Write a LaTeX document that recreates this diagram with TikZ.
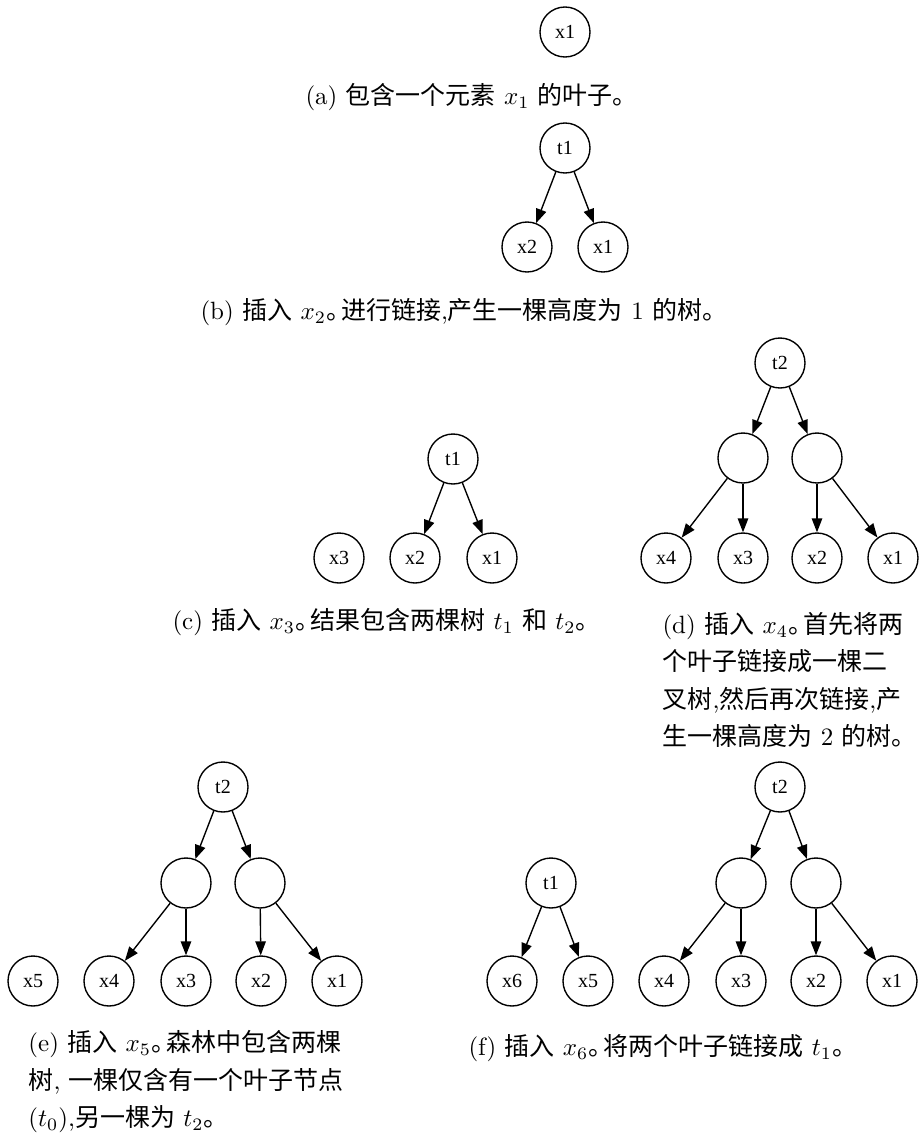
\documentclass[tikz,border=0pt]{standalone}
\usepackage{fontspec}
\usepackage{tikz}
\usetikzlibrary{arrows.meta}
\newfontfamily\cjk{Noto Sans CJK SC}
\newfontfamily\labelfont{Liberation Serif}
\newcommand\zh[1]{{\cjk #1}}
\newcommand\jh{\makebox[0.6em][l]{\cjk 。}}
\tikzset{
  vert/.style={draw, circle, minimum size=20pt, inner sep=0pt, line width=0.55pt,
               font=\labelfont\fontsize{8}{8}\selectfont},
  link/.style={-{Triangle[length=5.6pt,width=4.2pt]}, line width=0.55pt},
  subcap/.style={anchor=west, inner sep=0pt, align=left,
              font=\fontsize{10}{15}\selectfont},
}
\begin{document}
\begin{tikzpicture}[x=0.4pt, y=-0.4pt]
  \useasboundingbox (0,0) rectangle (919,1135);
  % (a) one leaf
  \node[vert] (a-x1) at (565,32) {x1};
  \node[subcap] (a-cap) at (305,97) {(a) \zh{包含一个元素} $x_1$ \zh{的叶子。}};
  % (b) link two leaves
  \node[vert] (b-t1) at (565,148) {t1};
  \node[vert] (b-x2) at (527,247) {x2};
  \node[vert] (b-x1) at (603,247) {x1};
  \draw[link] (b-t1) -- (b-x2);
  \draw[link] (b-t1) -- (b-x1);
  \node[subcap] (b-cap) at (200,312) {(b) \zh{插入} $x_2$\jh\zh{进行链接},\zh{产生一棵高度为} 1 \zh{的树。}};
  % (c) two trees
  \node[vert] (c-t1) at (453,459) {t1};
  \node[vert] (c-x3) at (339,558) {x3};
  \node[vert] (c-x2) at (415,558) {x2};
  \node[vert] (c-x1) at (492,558) {x1};
  \draw[link] (c-t1) -- (c-x2);
  \draw[link] (c-t1) -- (c-x1);
  \node[subcap] (c-cap) at (172,622) {(c) \zh{插入} $x_3$\jh\zh{结果包含两棵树} $t_1$ \zh{和} $t_2$\zh{。}};
  % (d) tree of height 2
  \node[vert] (d-t2) at (780,363) {t2};
  \node[vert] (d-l) at (743,458) {};
  \node[vert] (d-r) at (817,458) {};
  \node[vert] (d-x4) at (666,558) {x4};
  \node[vert] (d-x3) at (743,558) {x3};
  \node[vert] (d-x2) at (817,558) {x2};
  \node[vert] (d-x1) at (893,558) {x1};
  \draw[link] (d-t2) -- (d-l);
  \draw[link] (d-t2) -- (d-r);
  \draw[link] (d-l) -- (d-x4);
  \draw[link] (d-l) -- (d-x3);
  \draw[link] (d-r) -- (d-x2);
  \draw[link] (d-r) -- (d-x1);
  \node[subcap] (d-cap) at (662,680) {(d) \zh{插入} $x_4$\jh\zh{首先将两}\\
    \zh{个叶子链接成一棵二}\\
    \zh{叉树},\zh{然后再次链接},\zh{产}\\
    \zh{生一棵高度为} 2 \zh{的树。}};
  % (e) leaf plus tree
  \node[vert] (e-t2) at (223,787) {t2};
  \node[vert] (e-l) at (186,883) {};
  \node[vert] (e-r) at (260,883) {};
  \node[vert] (e-x5) at (33,981) {x5};
  \node[vert] (e-x4) at (109,981) {x4};
  \node[vert] (e-x3) at (186,981) {x3};
  \node[vert] (e-x2) at (261,981) {x2};
  \node[vert] (e-x1) at (337,981) {x1};
  \draw[link] (e-t2) -- (e-l);
  \draw[link] (e-t2) -- (e-r);
  \draw[link] (e-l) -- (e-x4);
  \draw[link] (e-l) -- (e-x3);
  \draw[link] (e-r) -- (e-x2);
  \draw[link] (e-r) -- (e-x1);
  \node[subcap] (e-cap) at (28,1082) {(e) \zh{插入} $x_5$\jh\zh{森林中包含两棵}\\
    \zh{树}, \zh{一棵仅含有一个叶子节点}\\
    $(t_0)$,\zh{另一棵为} $t_2$\zh{。}};
  % (f) t1 and t2
  \node[vert] (f-t1) at (551,883) {t1};
  \node[vert] (f-x6) at (512,981) {x6};
  \node[vert] (f-x5) at (588,981) {x5};
  \node[vert] (f-t2) at (780,787) {t2};
  \node[vert] (f-l) at (741,883) {};
  \node[vert] (f-r) at (816,883) {};
  \node[vert] (f-x4) at (664,981) {x4};
  \node[vert] (f-x3) at (741,981) {x3};
  \node[vert] (f-x2) at (816,981) {x2};
  \node[vert] (f-x1) at (892,981) {x1};
  \draw[link] (f-t1) -- (f-x6);
  \draw[link] (f-t1) -- (f-x5);
  \draw[link] (f-t2) -- (f-l);
  \draw[link] (f-t2) -- (f-r);
  \draw[link] (f-l) -- (f-x4);
  \draw[link] (f-l) -- (f-x3);
  \draw[link] (f-r) -- (f-x2);
  \draw[link] (f-r) -- (f-x1);
  \node[subcap] (f-cap) at (468,1048) {(f) \zh{插入} $x_6$\jh\zh{将两个叶子链接成} $t_1$\zh{。}};
\end{tikzpicture}
\end{document}
